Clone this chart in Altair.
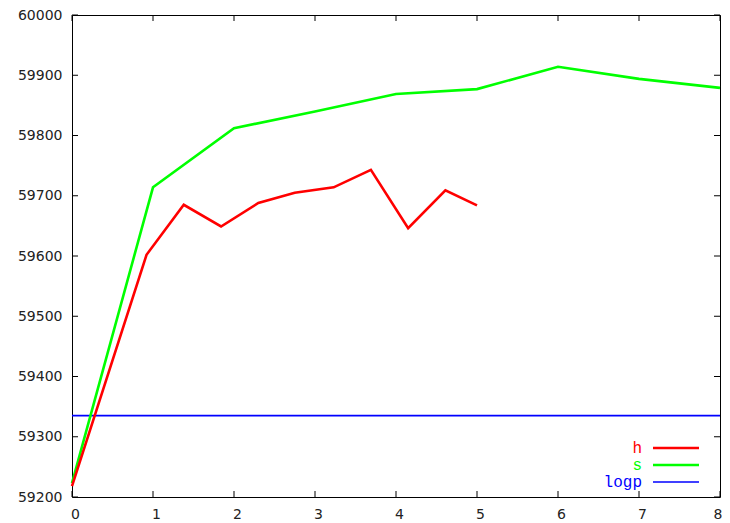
import altair as alt
import pandas as pd

# ---- data ----
h_x = [0, 0.92, 1.38, 1.84, 2.30, 2.75, 3.23, 3.69, 4.15, 4.61, 5.0]
h_y = [59218, 59602, 59685, 59649, 59688, 59705, 59714, 59743, 59646, 59709, 59684]

s_x = [0, 1, 2, 3, 4, 5, 6, 7, 8]
s_y = [59223, 59714, 59812, 59840, 59869, 59877, 59914, 59894, 59879]

logp_y = [59335]

x_ticks = [0, 1, 2, 3, 4, 5, 6, 7, 8]
y_ticks = [59200, 59300, 59400, 59500, 59600, 59700, 59800, 59900, 60000]

series_names = ["h", "s", "logp"]
series_colors = ["#ff0000", "#00ff00", "#0000ff"]
series_widths = [2.6, 2.6, 1.6]

# ---- layout ----
W, H = 648, 482
TICK = 6
label_font = "DejaVu Sans"
xs = alt.Scale(domain=[0, 8], nice=False, zero=False)
ys = alt.Scale(domain=[59200, 60000], nice=False, zero=False)

x_axis = alt.Axis(values=x_ticks, format="d", ticks=False, domain=False, grid=False,
                  labelFont=label_font, labelFontSize=14, labelColor="#222222",
                  labelPadding=10, labelFlush=False,
                  labelAlign={"expr": "datum.value == 8 ? 'right' : 'center'"},
                  labelOffset={"expr": "datum.value == 8 ? 2 : 3"},
                  title=None)
y_axis = alt.Axis(values=y_ticks, format="d", ticks=False, domain=False, grid=False,
                  labelFont=label_font, labelFontSize=14, labelColor="#222222",
                  labelPadding=10, labelFlush=False, title=None)

h_df = pd.DataFrame({"x": h_x, "y": h_y})
s_df = pd.DataFrame({"x": s_x, "y": s_y})
logp_df = pd.DataFrame({"y": logp_y})
xt_df = pd.DataFrame({"t": x_ticks})
yt_df = pd.DataFrame({"t": y_ticks})

X = lambda f: alt.X(f, scale=xs, axis=x_axis)
Y = lambda f: alt.Y(f, scale=ys, axis=y_axis)

# inward ticks on all four sides
bottom_ticks = alt.Chart(xt_df).mark_rule(color="#000000", strokeWidth=1).encode(
    x=X("t:Q"), y=alt.value(H), y2=alt.value(H - TICK))
top_ticks = alt.Chart(xt_df).mark_rule(color="#000000", strokeWidth=1).encode(
    x=X("t:Q"), y=alt.value(0), y2=alt.value(TICK))
left_ticks = alt.Chart(yt_df).mark_rule(color="#000000", strokeWidth=1).encode(
    y=Y("t:Q"), x=alt.value(0), x2=alt.value(TICK))
right_ticks = alt.Chart(yt_df).mark_rule(color="#000000", strokeWidth=1).encode(
    y=Y("t:Q"), x=alt.value(W), x2=alt.value(W - TICK))

h_line = alt.Chart(h_df).mark_line(color=series_colors[0], strokeWidth=series_widths[0]).encode(
    x=X("x:Q"), y=Y("y:Q"))
s_line = alt.Chart(s_df).mark_line(color=series_colors[1], strokeWidth=series_widths[1]).encode(
    x=X("x:Q"), y=Y("y:Q"))
logp_line = alt.Chart(logp_df).mark_rule(color=series_colors[2], strokeWidth=series_widths[2]).encode(
    y=Y("y:Q"))

layers = [bottom_ticks, top_ticks, left_ticks, right_ticks, logp_line, s_line, h_line]

# key (gnuplot style, bottom right)
for i, (name, color, sw) in enumerate(zip(series_names, series_colors, series_widths)):
    row_y = 433 + 17 * i
    ldf = pd.DataFrame({"name": [name]})
    layers.append(
        alt.Chart(ldf).mark_text(align="right", baseline="middle", font="Liberation Mono",
                                 fontSize=16, color=color).encode(
            x=alt.value(570), y=alt.value(row_y), text="name:N"))
    layers.append(
        alt.Chart(ldf).mark_rule(color=color, strokeWidth=sw).encode(
            x=alt.value(581), x2=alt.value(627), y=alt.value(row_y)))

chart = alt.layer(*layers).properties(
    width=W, height=H,
    autosize=alt.AutoSizeParams(type="none"),
    padding={"left": 64, "top": 7, "right": 2, "bottom": 26},
).configure_view(stroke="#000000", strokeWidth=1)

chart.save("out.html", embed_options={"renderer": "svg", "actions": False})
